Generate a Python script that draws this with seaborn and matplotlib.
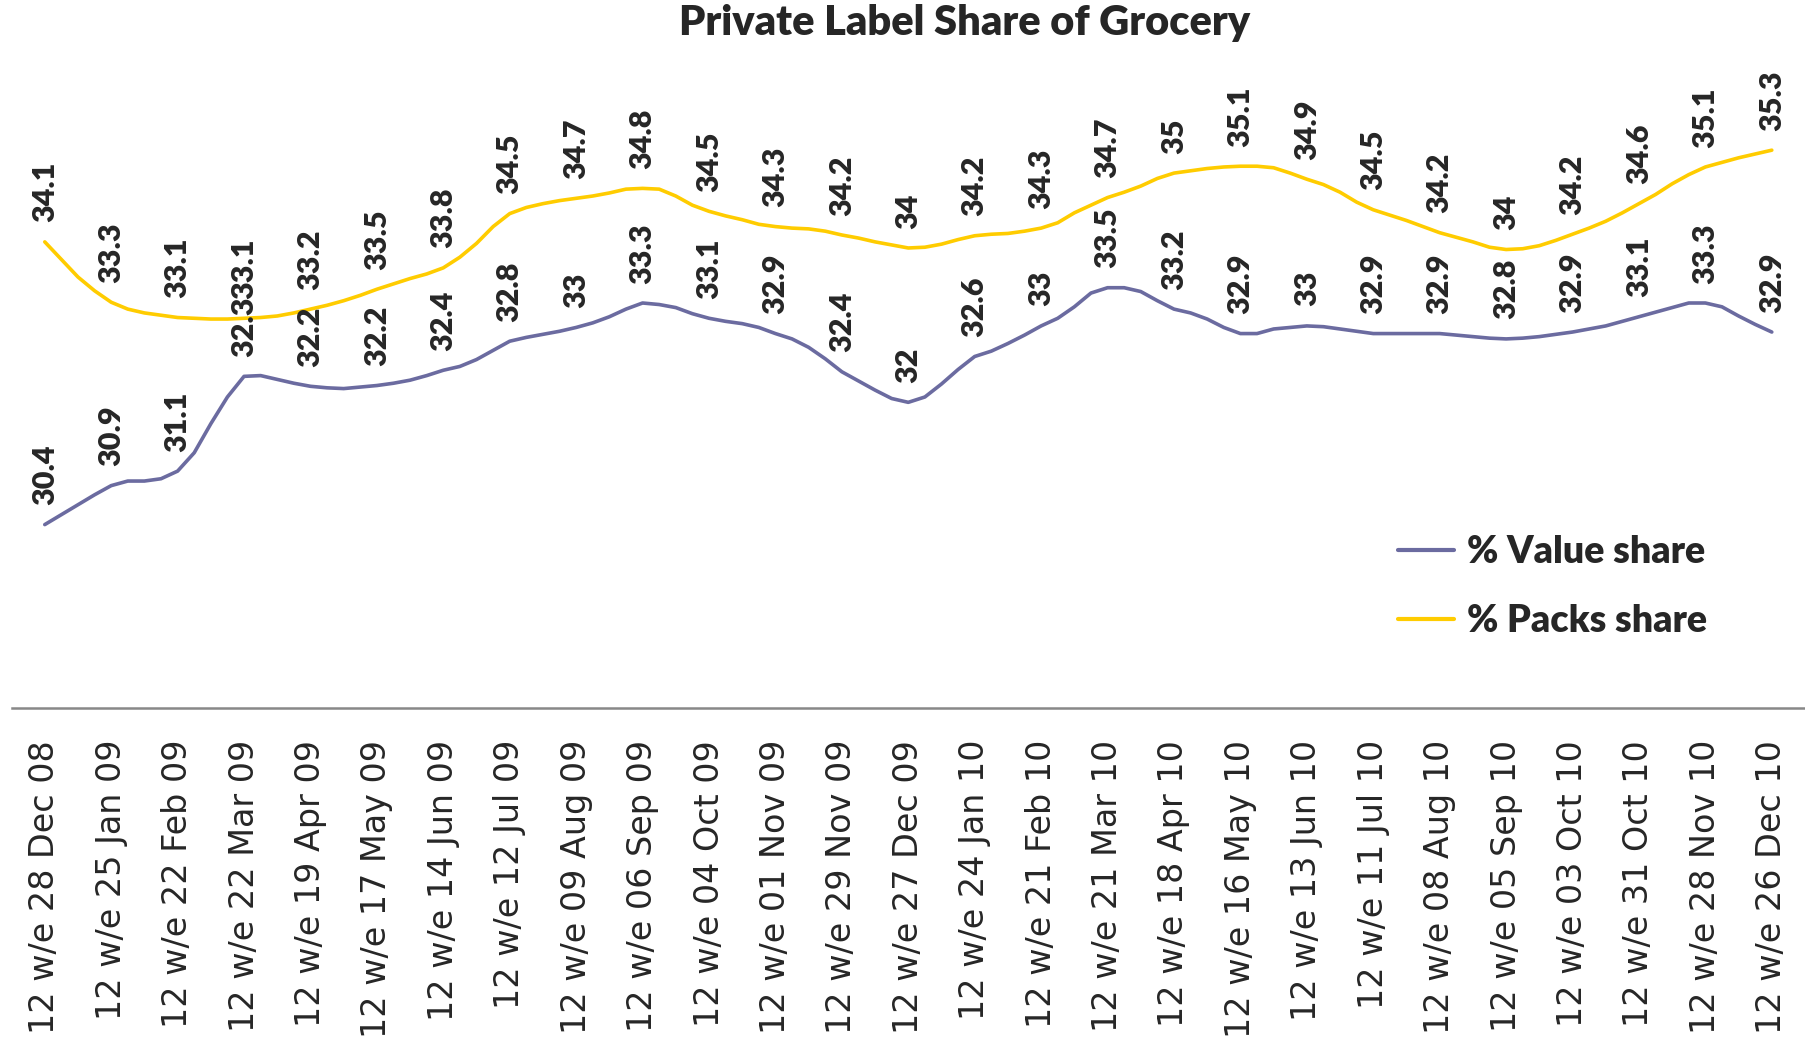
import numpy as np
import pandas as pd
import matplotlib
matplotlib.use("Agg")
import matplotlib.pyplot as plt
import seaborn as sns

# 12 week rolling share, weekly points, every 4th week is labelled
week_labels = [
    "12 w/e 28 Dec 08", "12 w/e 25 Jan 09", "12 w/e 22 Feb 09", "12 w/e 22 Mar 09",
    "12 w/e 19 Apr 09", "12 w/e 17 May 09", "12 w/e 14 Jun 09", "12 w/e 12 Jul 09",
    "12 w/e 09 Aug 09", "12 w/e 06 Sep 09", "12 w/e 04 Oct 09", "12 w/e 01 Nov 09",
    "12 w/e 29 Nov 09", "12 w/e 27 Dec 09", "12 w/e 24 Jan 10", "12 w/e 21 Feb 10",
    "12 w/e 21 Mar 10", "12 w/e 18 Apr 10", "12 w/e 16 May 10", "12 w/e 13 Jun 10",
    "12 w/e 11 Jul 10", "12 w/e 08 Aug 10", "12 w/e 05 Sep 10", "12 w/e 03 Oct 10",
    "12 w/e 31 Oct 10", "12 w/e 28 Nov 10", "12 w/e 26 Dec 10",
]

value_share = [
    30.40, 30.53, 30.66, 30.79, 30.91, 30.97, 30.97, 31.00, 31.10, 31.34,
    31.72, 32.07, 32.34, 32.35, 32.30, 32.25, 32.21, 32.19, 32.18, 32.20,
    32.22, 32.25, 32.29, 32.35, 32.42, 32.47, 32.56, 32.68, 32.80, 32.85,
    32.89, 32.93, 32.98, 33.04, 33.12, 33.22, 33.30, 33.28, 33.24, 33.16,
    33.10, 33.06, 33.03, 32.98, 32.90, 32.83, 32.72, 32.57, 32.40, 32.28,
    32.16, 32.05, 32.00, 32.07, 32.24, 32.43, 32.60, 32.67, 32.77, 32.88,
    33.00, 33.10, 33.25, 33.43, 33.50, 33.50, 33.45, 33.33, 33.22, 33.17,
    33.09, 32.98, 32.90, 32.90, 32.96, 32.98, 33.00, 32.99, 32.96, 32.93,
    32.90, 32.90, 32.90, 32.90, 32.90, 32.88, 32.86, 32.84, 32.83, 32.84,
    32.86, 32.89, 32.92, 32.96, 33.00, 33.06, 33.12, 33.18, 33.24, 33.30,
    33.30, 33.25, 33.13, 33.02, 32.92,
]

packs_share = [
    34.10, 33.87, 33.64, 33.46, 33.31, 33.22, 33.17, 33.14, 33.11, 33.10,
    33.09, 33.09, 33.10, 33.11, 33.13, 33.17, 33.22, 33.27, 33.33, 33.40,
    33.48, 33.55, 33.62, 33.68, 33.76, 33.90, 34.08, 34.30, 34.47, 34.55,
    34.60, 34.64, 34.67, 34.70, 34.74, 34.79, 34.80, 34.79, 34.70, 34.58,
    34.50, 34.44, 34.39, 34.33, 34.30, 34.28, 34.27, 34.24, 34.19, 34.15,
    34.10, 34.06, 34.02, 34.03, 34.07, 34.13, 34.18, 34.20, 34.21, 34.24,
    34.28, 34.35, 34.48, 34.58, 34.68, 34.75, 34.83, 34.93, 35.00, 35.03,
    35.06, 35.08, 35.09, 35.09, 35.07, 35.00, 34.92, 34.85, 34.75, 34.62,
    34.52, 34.45, 34.38, 34.30, 34.22, 34.16, 34.10, 34.03, 34.00, 34.01,
    34.05, 34.12, 34.20, 34.28, 34.37, 34.48, 34.60, 34.72, 34.86, 34.98,
    35.08, 35.14, 35.20, 35.25, 35.30,
]

series_names = ["% Value share", "% Packs share"]
series_colors = ["#6B6BA0", "#FFCC00"]

sns.set_style("white")
plt.rcParams["font.family"] = ["DejaVu Sans"]

weeks = np.arange(len(value_share))
df = pd.DataFrame({
    "week": np.concatenate([weeks, weeks]),
    "share": value_share + packs_share,
    "series": [series_names[0]] * len(weeks) + [series_names[1]] * len(weeks),
})

fig = plt.figure(figsize=(18.05, 10.43), dpi=100)
ax = fig.add_axes([0.0064, 0.3212, 0.9936, 0.5861])

sns.lineplot(data=df, x="week", y="share", hue="series", palette=series_colors,
             linewidth=2.6, ax=ax, legend=True)

# data labels on every 4th week
for vals in (value_share, packs_share):
    for i in range(0, len(vals), 4):
        ax.annotate(f"{round(vals[i], 1):g}", (i, vals[i]), xytext=(0, 14),
                    textcoords="offset points", rotation=90, ha="center", va="bottom",
                    fontsize=22, fontweight="heavy", family="Lato", annotation_clip=False)

ax.set_xlim(-2, 106)
ax.set_ylim(28, 36)
ax.set_xticks(np.arange(0, 105, 4))
ax.set_xticklabels(week_labels, rotation=90, fontsize=24)
ax.set_xticks(np.arange(-2, 107, 4), minor=True)
ax.tick_params(axis="x", which="major", length=0, pad=23)
ax.tick_params(axis="x", which="minor", length=10, width=1.5, color="#888888")
ax.set_yticks([])
ax.set_xlabel("")
ax.set_ylabel("")
for side in ["top", "right", "left"]:
    ax.spines[side].set_visible(False)
ax.spines["bottom"].set_color("#888888")
ax.spines["bottom"].set_linewidth(1.8)

leg = ax.legend(loc="center left", bbox_to_anchor=(0.764, 0.4377),
                bbox_transform=fig.transFigure, frameon=False, borderpad=0,
                handlelength=1.5, handletextpad=0.35, labelspacing=0.95,
                prop={"family": "Lato", "weight": "heavy", "size": 27})
for line in leg.get_lines():
    line.set_linewidth(3)

fig.text(965 / 1805, 1 - 23 / 1043, "Private Label Share of Grocery", ha="center",
         va="center", fontsize=30, fontweight="heavy", family="Lato")

fig.savefig("out.png", dpi=100)
